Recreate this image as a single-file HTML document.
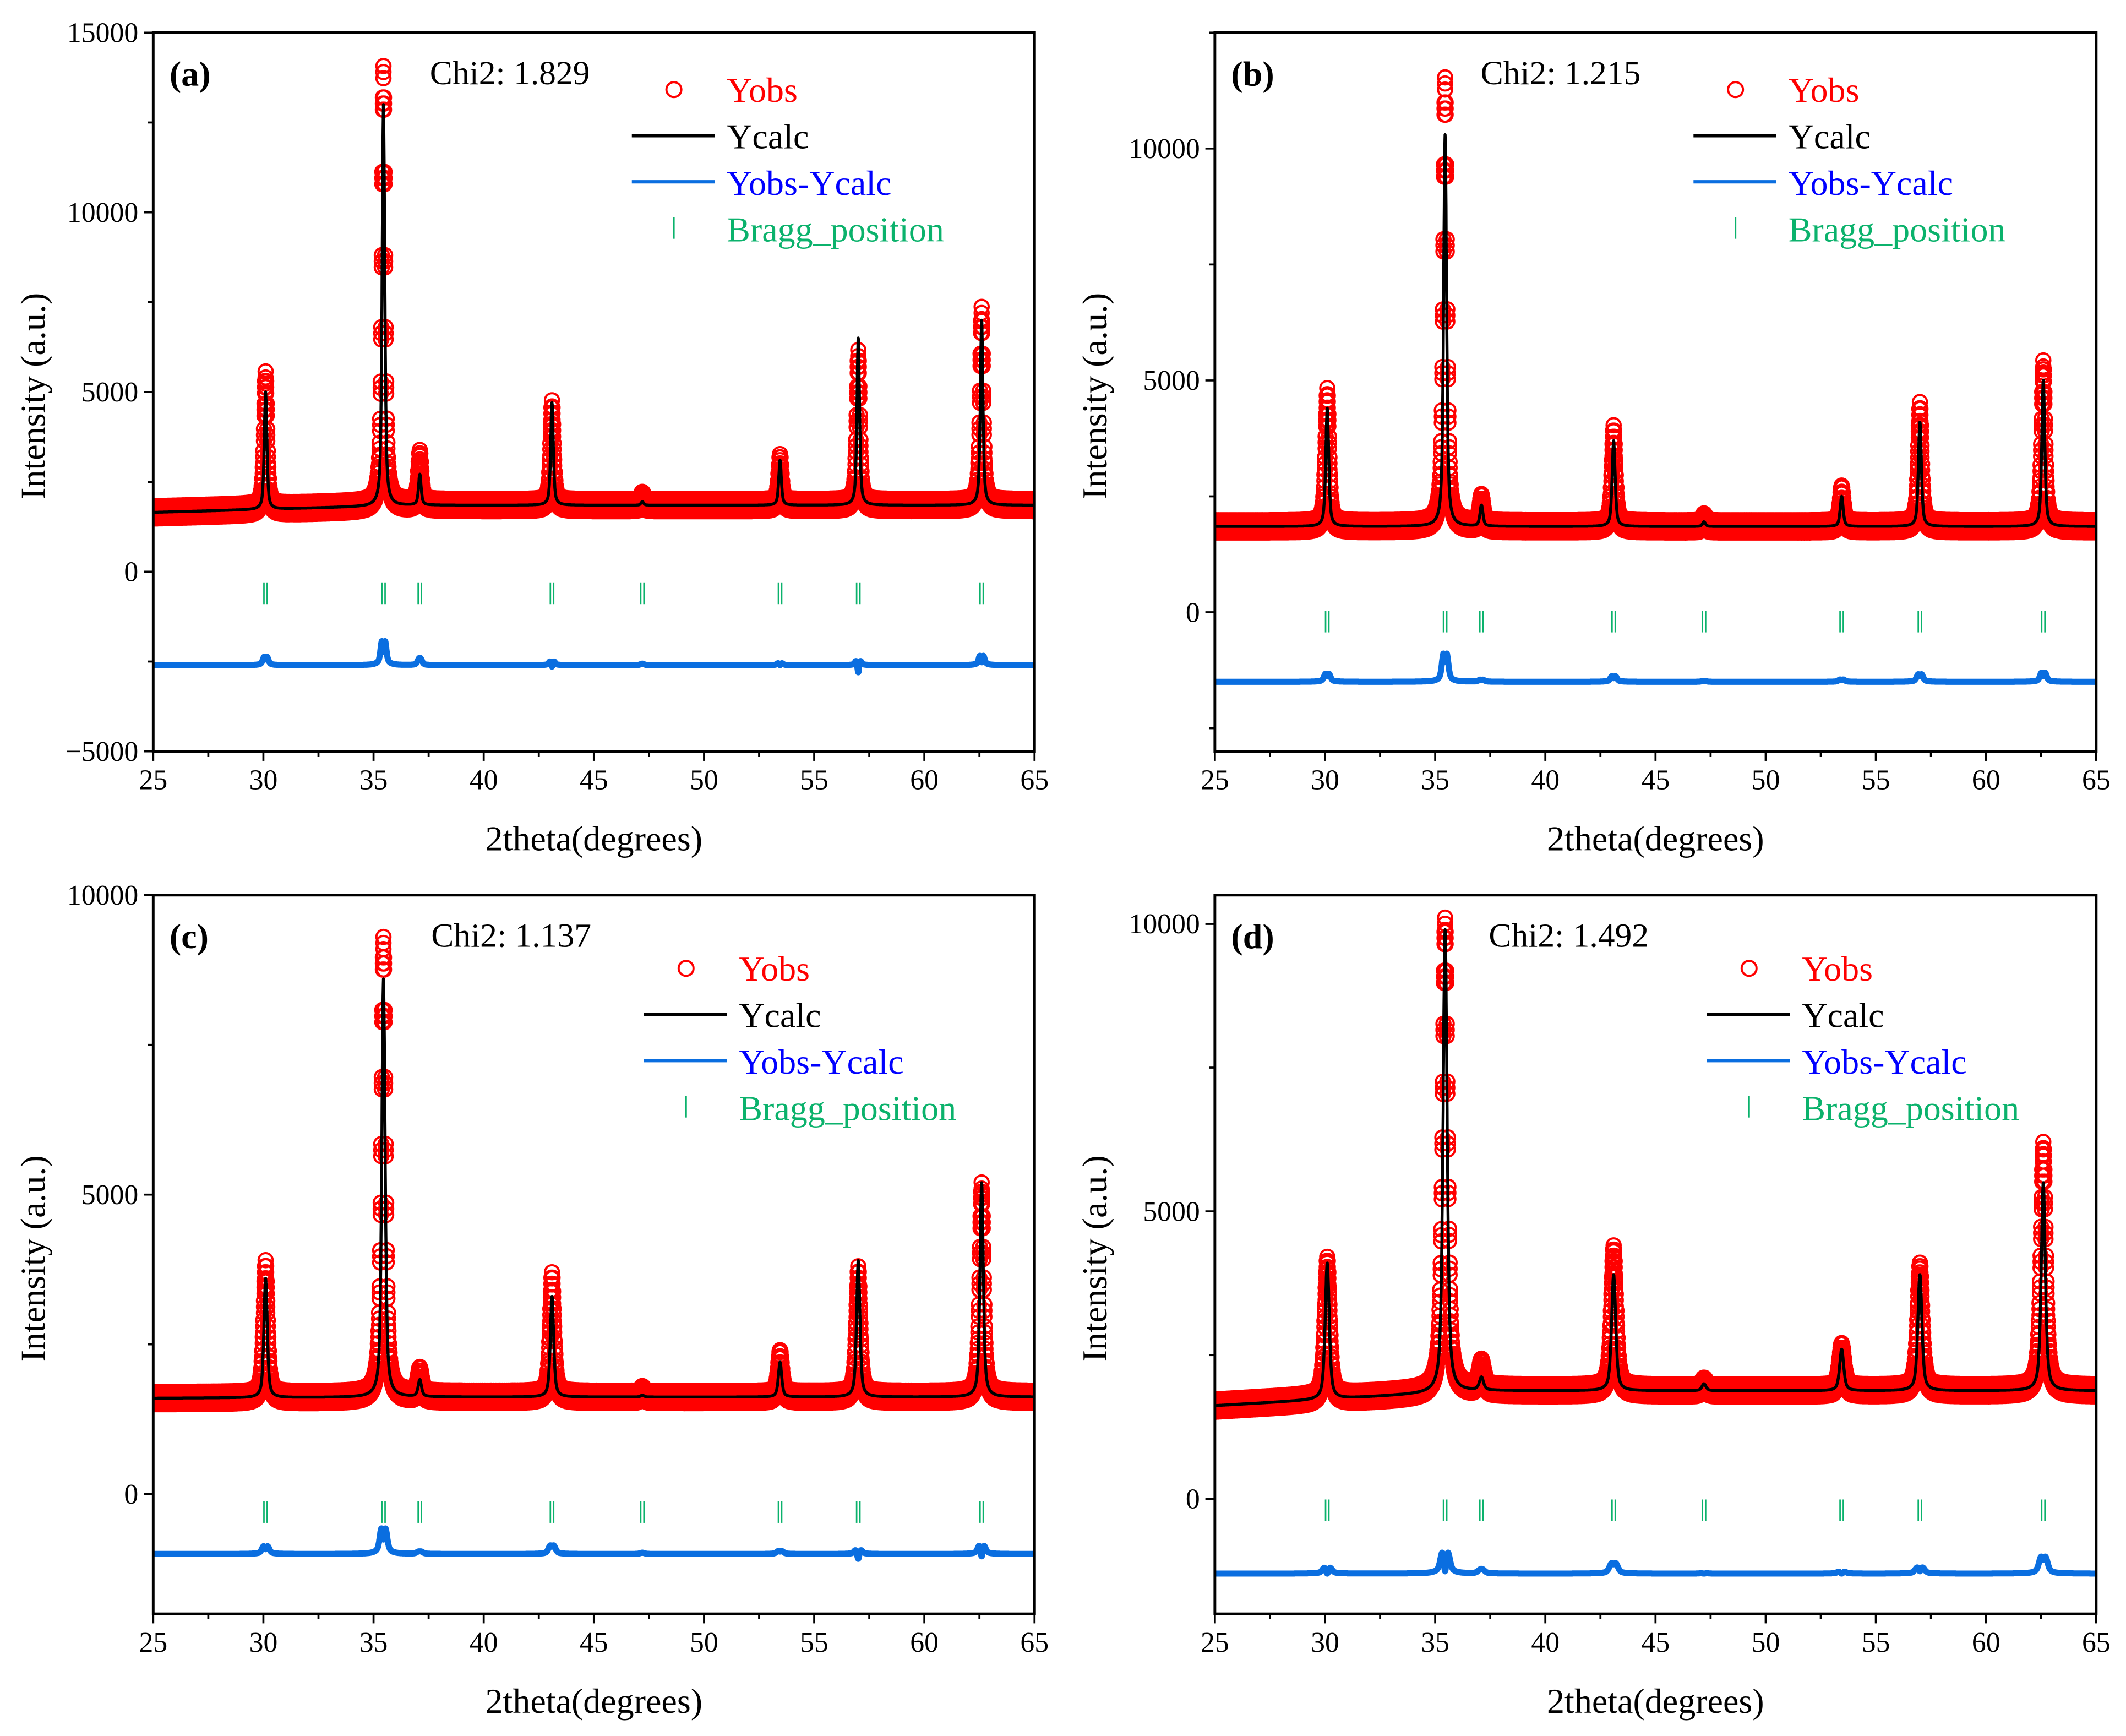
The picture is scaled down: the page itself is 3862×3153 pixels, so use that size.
<!DOCTYPE html>
<html><head><meta charset="utf-8">
<style>
html,body{margin:0;padding:0;background:#fff;}
svg{display:block;}
text{font-family:"Liberation Serif",serif;}
</style></head>
<body>
<svg id="chart" width="3862" height="3153" viewBox="0 0 1568 1280" xmlns="http://www.w3.org/2000/svg" font-family="Liberation Serif, serif"></svg>
<script>
// ---- data ----
const peakPositions = [30.1, 35.45, 37.1, 43.1, 47.2, 53.45, 57.0, 62.6];
const braggPositions = [30.1, 35.45, 37.1, 43.1, 47.2, 53.45, 57.0, 62.6];
const xTicks = [25, 30, 35, 40, 45, 50, 55, 60, 65];

const calcA = [5000, 13000, 2700, 4700, 1950, 3100, 6500, 7000];
const obsA  = [5400, 13900, 3200, 4600, 2050, 3100, 6000, 7200];
const calcB = [4400, 10300, 2300, 3700, 1950, 2500, 4100, 5000];
const obsB  = [4700, 11400, 2400, 3900, 2000, 2600, 4400, 5300];
const calcC = [3600, 8600, 1900, 3300, 1650, 2200, 3900, 5200];
const obsC  = [3800, 9200, 2000, 3600, 1700, 2300, 3700, 5100];
const calcD = [4100, 9900, 2100, 3900, 2000, 2600, 3900, 5500];
const obsD  = [4100, 10000, 2300, 4300, 2000, 2600, 4000, 6100];

const bgStart = [1650, 1850, 1600, 1620];
const bgEnd   = [1850, 1850, 1620, 1880];
const diffBase = [-2600, -1500, -1000, -1300];
const braggLevel = [-600, -200, -300, -200];
const yMin = [-5000, -3000, -2000, -2000];
const yMax = [15000, 12500, 10000, 10500];
const yTickLabels = [[-5000, 0, 5000, 10000, 15000], [0, 5000, 10000], [0, 5000, 10000], [0, 5000, 10000]];
const chiValues = ["1.829", "1.215", "1.137", "1.492"];
const panelLetters = ["(a)", "(b)", "(c)", "(d)"];

const NS = "http://www.w3.org/2000/svg";
const svg = document.getElementById("chart");
const FF = '"Liberation Serif", serif';
function mk(tag, attrs, parent) {
  const e = document.createElementNS(NS, tag);
  for (const k in attrs) e.setAttribute(k, attrs[k]);
  if (tag === "text") e.setAttribute("font-family", FF);
  (parent || svg).appendChild(e);
  return e;
}

const panels = [
  {x0: 113, x1: 763, y0: 24, y1: 554, calc: calcA, obs: obsA, w: 0.07, lg: 497},
  {x0: 896, x1: 1546, y0: 24, y1: 554, calc: calcB, obs: obsB, w: 0.08, lg: 1280},
  {x0: 113, x1: 763, y0: 660, y1: 1190, calc: calcC, obs: obsC, w: 0.09, lg: 506},
  {x0: 896, x1: 1546, y0: 660, y1: 1190, calc: calcD, obs: obsD, w: 0.11, lg: 1290}
];

function profile(x, heights, bg0, bg1, w) {
  const bg = bg0 + (bg1 - bg0) * Math.min(1, (x - 25) / 12);
  let y = bg;
  for (let i = 0; i < peakPositions.length; i++) {
    const d = (x - peakPositions[i]) / w;
    const amp = heights[i] - bg;
    y += amp * (0.6 / (1 + d * d) + 0.4 * Math.exp(-0.693 * d * d));
  }
  return y;
}

panels.forEach((p, k) => {
  const g = mk("g", {});
  
  
  const sx = v => p.x0 + (v - 25) / 40 * (p.x1 - p.x0);
  const sy = v => p.y1 - (v - yMin[k]) / (yMax[k] - yMin[k]) * (p.y1 - p.y0);

  const cp = mk("clipPath", {id: "clip" + k}, g);
  mk("rect", {x: p.x0, y: p.y0, width: p.x1 - p.x0, height: p.y1 - p.y0}, cp);
  const plot = mk("g", {"clip-path": "url(#clip" + k + ")"}, g);

  let d = "";
  const r = 5.2;
  for (let x = 25; x <= 65.001; x += 0.025) {
    const yv = sy(profile(x, p.obs, bgStart[k], bgEnd[k], p.w * 1.2));
    const px = sx(x);
    [-4.5, 0, 4.5].forEach(off => {
      const cy = yv + off;
      d += "M" + (px - r).toFixed(1) + "," + cy.toFixed(1) + "a" + r + "," + r + " 0 1,0 " + (2 * r) + ",0a" + r + "," + r + " 0 1,0 " + (-2 * r) + ",0";
    });
  }
  const obsPath = mk("path", {d: d, fill: "none", stroke: "#ff0000", "stroke-width": 1.6}, plot);
  
  

  let dc = "", dd = "";
  for (let x = 25; x <= 65.001; x += 0.01) {
    const c = profile(x, p.calc, bgStart[k], bgEnd[k], p.w);
    const o = profile(x, p.obs, bgStart[k], bgEnd[k], p.w * 1.2);
    dc += (dc ? "L" : "M") + sx(x).toFixed(1) + "," + sy(c).toFixed(1);
    dd += (dd ? "L" : "M") + sx(x).toFixed(1) + "," + sy(diffBase[k] + (o - c) * 0.4).toFixed(1);
  }
  const calcPath = mk("path", {d: dc, fill: "none", stroke: "#000", "stroke-width": 2.2, "stroke-linejoin": "round"}, plot);
  
  
  const diffPath = mk("path", {d: dd, fill: "none", stroke: "#0a6ee0", "stroke-width": 4.5, "stroke-linejoin": "round"}, plot);
  
  

  braggPositions.forEach(bp => {
    const bx = sx(bp), by = sy(braggLevel[k]);
    [-1.2, 1.2].forEach(o => {
      const t = mk("line", {x1: bx + o, x2: bx + o, y1: by - 8, y2: by + 8, stroke: "#0bb26c", "stroke-width": 1.1}, plot);
      
      
    });
  });

  const fr = mk("rect", {x: p.x0, y: p.y0, width: p.x1 - p.x0, height: p.y1 - p.y0, fill: "none", stroke: "#000", "stroke-width": 2}, g);
  
  

  for (let v = 25; v <= 65; v += 2.5) {
    const major = v % 5 === 0;
    mk("line", {x1: sx(v), x2: sx(v), y1: p.y1, y2: p.y1 + (major ? 7 : 4), stroke: "#000", "stroke-width": 1.5}, g);
  }
  xTicks.forEach(v => {
    const t = mk("text", {x: sx(v), y: p.y1 + 28, "font-size": 21, "text-anchor": "middle"}, g);
    t.textContent = v;
    
    
  });
  for (let v = Math.ceil(yMin[k] / 2500) * 2500; v <= yMax[k]; v += 2500) {
    const major = v % 5000 === 0;
    mk("line", {x1: p.x0, x2: p.x0 - (major ? 7 : 4), y1: sy(v), y2: sy(v), stroke: "#000", "stroke-width": 1.5}, g);
  }
  yTickLabels[k].forEach(v => {
    const t = mk("text", {x: p.x0 - 11, y: sy(v) + 7, "font-size": 21, "text-anchor": "end"}, g);
    t.textContent = v < 0 ? "\u2212" + Math.abs(v) : v;
    
    
  });
  const xt = mk("text", {x: (p.x0 + p.x1) / 2, y: p.y1 + 73, "font-size": 26, "text-anchor": "middle"}, g);
  xt.textContent = "2theta(degrees)";
  
  
  const ycx = p.x0 - 80, ycy = (p.y0 + p.y1) / 2 + 3;
  const yt = mk("text", {x: ycx, y: ycy, "font-size": 26, "text-anchor": "middle", transform: "rotate(-90 " + ycx + " " + ycy + ")"}, g);
  yt.textContent = "Intensity (a.u.)";
  
  

  const pl = mk("text", {x: p.x0 + 12, y: p.y0 + 39, "font-size": 26, "font-weight": "bold"}, g);
  pl.textContent = panelLetters[k];
  
  
  const chiX = [317, 1092, 318, 1098][k];
  const ch = mk("text", {x: chiX, y: p.y0 + 38, "font-size": 25}, g);
  ch.textContent = "Chi2: " + chiValues[k];
  
  

  const lx = p.lg, ty = p.y0 + (k < 2 ? 42 : 54);
  const leg = mk("g", {}, g);
  
  
  mk("circle", {cx: lx, cy: ty, r: 5.5, fill: "none", stroke: "#ff0000", "stroke-width": 1.6}, leg);
  mk("line", {x1: lx - 31, x2: lx + 30, y1: ty + 34, y2: ty + 34, stroke: "#000", "stroke-width": 2.5}, leg);
  mk("line", {x1: lx - 31, x2: lx + 30, y1: ty + 68, y2: ty + 68, stroke: "#0a6ee0", "stroke-width": 2.5}, leg);
  mk("line", {x1: lx, x2: lx, y1: ty + 94, y2: ty + 110, stroke: "#0bb26c", "stroke-width": 1.2}, leg);
  const labels = [["Yobs", "#ff0000"], ["Ycalc", "#000"], ["Yobs-Ycalc", "#0000ff"], ["Bragg_position", "#0bb26c"]];
  labels.forEach((L, i) => {
    const t = mk("text", {x: lx + 39, y: ty + 9 + i * 34.3, "font-size": 26, fill: L[1]}, leg);
    t.textContent = L[0];
    
    
  });
});
</script>
</body></html>
